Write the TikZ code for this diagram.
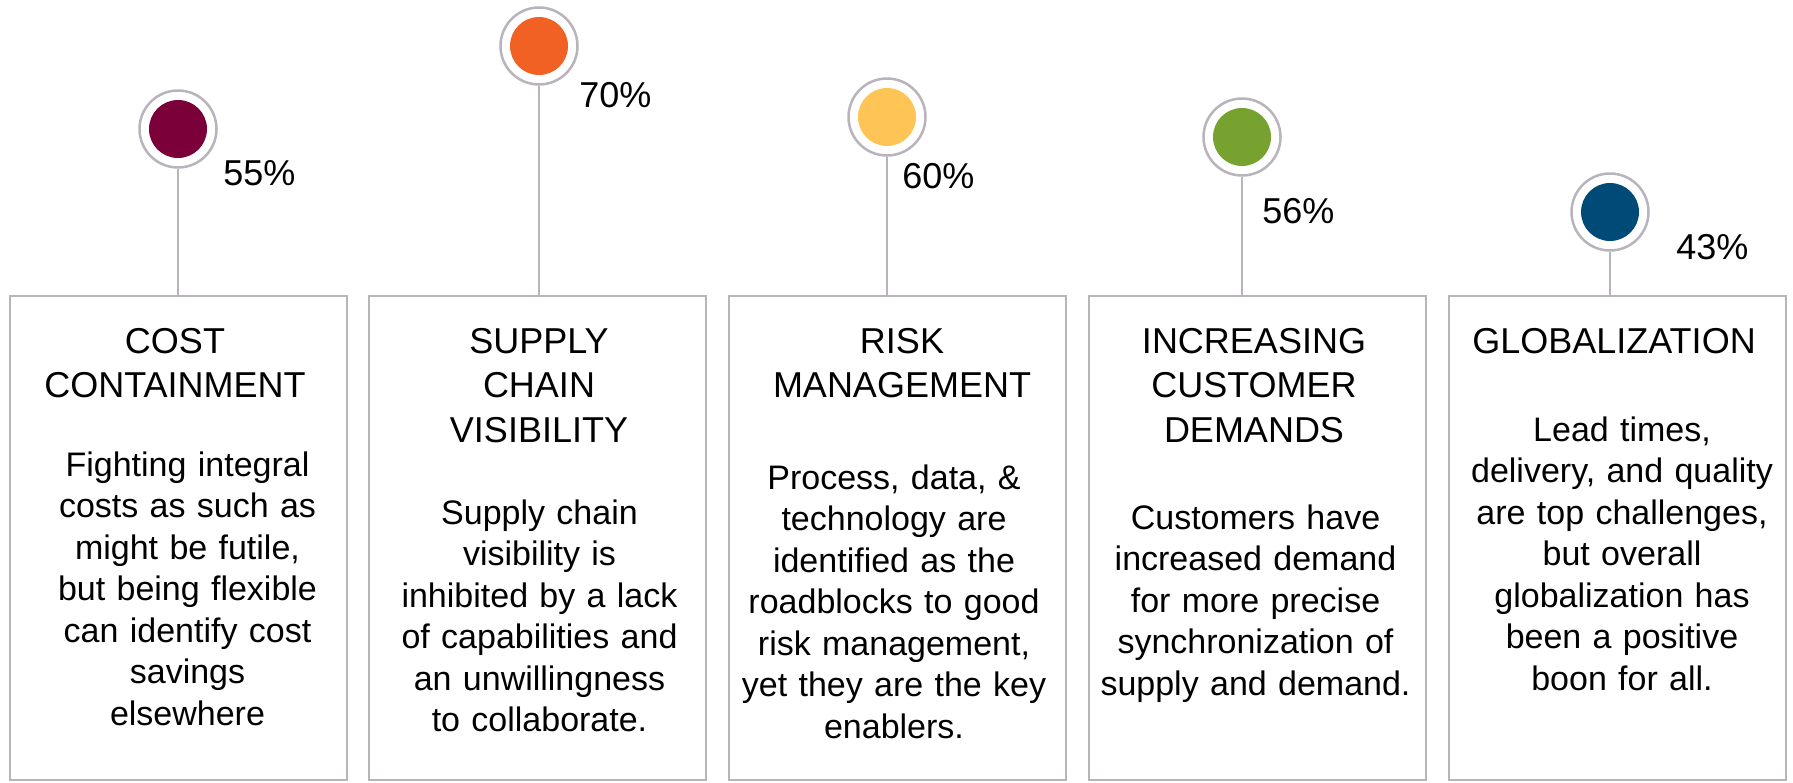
\documentclass[tikz,border=0pt]{standalone}
\usepackage{fontspec}
\setmainfont{Liberation Sans}
\usetikzlibrary{calc}

\newlength{\du}
\setlength{\du}{0.5pt}

\definecolor{ringgray}{RGB}{185,180,188}
\definecolor{dotmaroon}{RGB}{123,0,58}
\definecolor{dotorange}{RGB}{242,97,36}
\definecolor{dotyellow}{RGB}{254,196,86}
\definecolor{dotgreen}{RGB}{120,162,47}
\definecolor{dotnavy}{RGB}{0,74,120}

\tikzset{
  ring/.style={circle,draw=ringgray,line width=2.5\du,fill=white,minimum size=77\du,inner sep=0pt},
  dot/.style={circle,minimum size=58\du,inner sep=0pt},
  stem/.style={draw=ringgray,line width=2.5\du},
  panel/.style={rectangle,draw=ringgray,line width=2.5\du,minimum width=337\du,minimum height=484\du,inner sep=0pt},
  pct/.style={anchor=base west,inner sep=0pt,font=\fontsize{18}{21}\selectfont},
  headtext/.style={anchor=base,inner sep=0pt,text width=320\du,align=center,font=\fontsize{18}{22.25}\selectfont},
  bodytext/.style={anchor=base,inner sep=0pt,text width=330\du,align=center,font=\fontsize{17}{20.75}\selectfont}
}

\begin{document}
\begin{tikzpicture}
\pgftransformxscale{1.000000}
\pgftransformyscale{-1.000000}
\useasboundingbox (0\du,0\du) rectangle (1793\du,782\du);

% panels
\node[panel] (panel1) at (178.5\du,538\du){};
\node[panel] (panel2) at (537.5\du,538\du){};
\node[panel] (panel3) at (897.5\du,538\du){};
\node[panel] (panel4) at (1257.5\du,538\du){};
\node[panel] (panel5) at (1617.5\du,538\du){};

% rings with the coloured dots
\node[ring] (ring1) at (178\du,129\du){};
\node[dot,fill=dotmaroon] (dot1) at (ring1){};
\node[ring] (ring2) at (539\du,46\du){};
\node[dot,fill=dotorange] (dot2) at (ring2){};
\node[ring] (ring3) at (887\du,117\du){};
\node[dot,fill=dotyellow] (dot3) at (ring3){};
\node[ring] (ring4) at (1242\du,137\du){};
\node[dot,fill=dotgreen] (dot4) at (ring4){};
\node[ring] (ring5) at (1610\du,212\du){};
\node[dot,fill=dotnavy] (dot5) at (ring5){};

% stems
\draw[stem] (ring1.south) -- (ring1.south |- panel1.north);
\draw[stem] (ring2.south) -- (ring2.south |- panel2.north);
\draw[stem] (ring3.south) -- (ring3.south |- panel3.north);
\draw[stem] (ring4.south) -- (ring4.south |- panel4.north);
\draw[stem] (ring5.south) -- (ring5.south |- panel5.north);

% percentages
\node[pct] (pct1) at (223\du,185\du){55\%};
\node[pct] (pct2) at (579\du,107\du){70\%};
\node[pct] (pct3) at (902\du,188\du){60\%};
\node[pct] (pct4) at (1262\du,223\du){56\%};
\node[pct] (pct5) at (1676\du,259\du){43\%};

% headings
\node[headtext] (head1) at (175\du,353\du){COST\\CONTAINMENT};
\node[headtext] (head2) at (539\du,353\du){SUPPLY\\CHAIN\\VISIBILITY};
\node[headtext] (head3) at (902\du,353\du){RISK\\MANAGEMENT};
\node[headtext] (head4) at (1254\du,353\du){INCREASING\\CUSTOMER\\DEMANDS};
\node[headtext] (head5) at (1614\du,353\du){GLOBALIZATION};

% body texts
\node[bodytext] (body1) at (187.5\du,476\du){Fighting integral\\costs as such as\\might be futile,\\but being flexible\\can identify cost\\savings\\elsewhere};
\node[bodytext] (body2) at (539.5\du,524\du){Supply chain\\visibility is\\inhibited by a lack\\of capabilities and\\an unwillingness\\to collaborate.};
\node[bodytext] (body3) at (894\du,489\du){Process, data, \&\\technology are\\identified as the\\roadblocks to good\\risk management,\\yet they are the key\\enablers.};
\node[bodytext] (body4) at (1255.5\du,529\du){Customers have\\increased demand\\for more precise\\synchronization of\\supply and demand.};
\node[bodytext] (body5) at (1622\du,441\du){Lead times,\\delivery, and quality\\are top challenges,\\but overall\\globalization has\\been a positive\\boon for all.};
\end{tikzpicture}
\end{document}
